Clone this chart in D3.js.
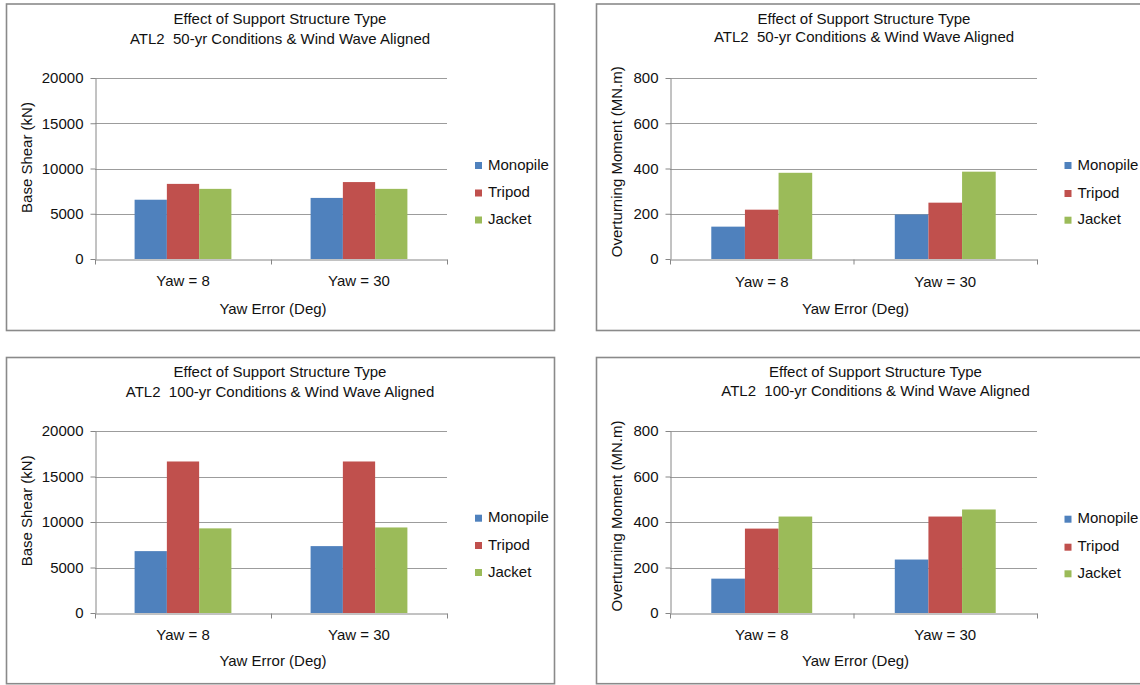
<!DOCTYPE html>
<html>
<head>
<meta charset="utf-8">
<script src="https://cdn.jsdelivr.net/npm/d3@7"></script>
<style>
  html, body { margin: 0; padding: 0; background: #fff; }
  svg { display: block; }
  text { font-family: "Liberation Sans", Arial, sans-serif; font-size: 15px; fill: #111; }
</style>
</head>
<body>
<svg id="chart" width="1140" height="685"></svg>
<script>
// ---- data ----
const categories = ["Yaw = 8", "Yaw = 30"];
const seriesNames = ["Monopile", "Tripod", "Jacket"];
const seriesColors = ["#4F81BD", "#C0504D", "#9BBB59"];

const titleLine1 = "Effect of Support Structure Type";
const titleLine2_50 = "ATL2  50-yr Conditions & Wind Wave Aligned";
const titleLine2_100 = "ATL2  100-yr Conditions & Wind Wave Aligned";
const xAxisTitle = "Yaw Error (Deg)";
const shearTitle = "Base Shear (kN)";
const momentTitle = "Overturning Moment (MN.m)";

const shearTicks = [0, 5000, 10000, 15000, 20000];
const momentTicks = [0, 200, 400, 600, 800];

// values per series (Monopile, Tripod, Jacket) across categories
const shear50Monopile = [6550, 6750];
const shear50Tripod = [8300, 8500];
const shear50Jacket = [7750, 7750];

const moment50Monopile = [143, 197];
const moment50Tripod = [218, 249];
const moment50Jacket = [381, 386];

const shear100Monopile = [6800, 7350];
const shear100Tripod = [16650, 16650];
const shear100Jacket = [9300, 9400];

const moment100Monopile = [151, 235];
const moment100Tripod = [371, 424];
const moment100Jacket = [424, 455];

// ---- layout ----
const panels = [
  { frame: [6.5, 4, 548, 326.5], plot: { l: 95, r: 447, t: 78, b: 259 },
    titleX: 280, titleY: [24, 44], title2: titleLine2_50,
    yTitle: shearTitle, yTitleX: 27, yTitleC: 157.5, ticks: shearTicks,
    legendX: 475, legendY: [164, 191.5, 218.5], xLabY: 286, xTitleY: 313.5,
    series: [shear50Monopile, shear50Tripod, shear50Jacket] },
  { frame: [596.5, 4, 600, 326.5], plot: { l: 670, r: 1037, t: 78, b: 259 },
    titleX: 864, titleY: [23.5, 42], title2: titleLine2_50,
    yTitle: momentTitle, yTitleX: 617, yTitleC: 161.7, ticks: momentTicks,
    legendX: 1064.5, legendY: [164, 192, 218.7], xLabY: 286.5, xTitleY: 313.5,
    series: [moment50Monopile, moment50Tripod, moment50Jacket] },
  { frame: [6.5, 357.5, 548, 326.2], plot: { l: 95, r: 447, t: 431, b: 613 },
    titleX: 280, titleY: [377, 397], title2: titleLine2_100,
    yTitle: shearTitle, yTitleX: 26.5, yTitleC: 510.8, ticks: shearTicks,
    legendX: 475, legendY: [516.7, 544, 571], xLabY: 640, xTitleY: 666,
    series: [shear100Monopile, shear100Tripod, shear100Jacket] },
  { frame: [596.5, 357.5, 600, 326.2], plot: { l: 670, r: 1037, t: 431, b: 613 },
    titleX: 875.5, titleY: [376.5, 396], title2: titleLine2_100,
    yTitle: momentTitle, yTitleX: 617, yTitleC: 516, ticks: momentTicks,
    legendX: 1064.5, legendY: [517.7, 545.7, 572.3], xLabY: 640, xTitleY: 666,
    series: [moment100Monopile, moment100Tripod, moment100Jacket] }
];

const svg = d3.select("#chart");
const axisColor = "#868686";
const gridColor = "#9c9c9c";

panels.forEach(p => {
  const g = svg.append("g");
  const [fx, fy, fw, fh] = p.frame;
  g.append("rect").attr("x", fx).attr("y", fy).attr("width", fw).attr("height", fh)
    .attr("fill", "#fff").attr("stroke", "#8a8a8a").attr("stroke-width", 1.6);

  const { l, r, t, b } = p.plot;
  const y = d3.scaleLinear().domain([p.ticks[0], p.ticks[p.ticks.length - 1]]).range([b, t]);
  const x0 = d3.scaleBand().domain(categories).range([l, r]).paddingInner(0.45).paddingOuter(0.225);
  const x1 = d3.scaleBand().domain(seriesNames).range([0, x0.bandwidth()]);
  const xb = d3.scaleLinear().domain([0, categories.length]).range([l, r]);

  // gridlines
  g.append("g").selectAll("line").data(p.ticks.slice(1)).join("line")
    .attr("x1", l).attr("x2", r)
    .attr("y1", d => Math.round(y(d)) + 0.5).attr("y2", d => Math.round(y(d)) + 0.5)
    .attr("stroke", gridColor).attr("stroke-width", 1);

  // bars
  const rows = categories.map((c, i) => seriesNames.map((s, j) => ({ c, s, j, v: p.series[j][i] })));
  g.append("g").selectAll("g").data(rows).join("g")
    .attr("transform", (d, i) => `translate(${x0(categories[i])},0)`)
    .selectAll("rect").data(d => d).join("rect")
    .attr("x", d => x1(d.s)).attr("width", x1.bandwidth())
    .attr("y", d => y(d.v)).attr("height", d => y(0) - y(d.v))
    .attr("fill", d => seriesColors[d.j]);

  // y axis
  const ya = g.append("g").attr("transform", `translate(${l + 0.5},0)`)
    .call(d3.axisLeft(y).tickValues(p.ticks).tickFormat(d3.format("d"))
      .tickSize(5).tickPadding(7).tickSizeOuter(0));
  ya.select(".domain").attr("stroke", axisColor);
  ya.selectAll(".tick line").attr("stroke", axisColor);
  ya.selectAll("text").style("font-size", "15px").attr("fill", "#111")
    .style("font-family", '"Liberation Sans", Arial, sans-serif');

  // x axis baseline + boundary ticks
  const xa = g.append("g").attr("transform", `translate(0,${Math.round(b) + 0.5})`)
    .call(d3.axisBottom(xb).tickValues(d3.range(categories.length + 1)).tickSize(5).tickSizeOuter(0).tickFormat(""));
  xa.select(".domain").attr("stroke", axisColor);
  xa.selectAll(".tick line").attr("stroke", axisColor);

  // category labels
  g.append("g").selectAll("text").data(categories).join("text")
    .attr("x", d => x0(d) + x0.bandwidth() / 2).attr("y", p.xLabY)
    .attr("text-anchor", "middle").text(d => d);

  // axis titles
  g.append("text").attr("x", (l + r) / 2 + 2).attr("y", p.xTitleY)
    .attr("text-anchor", "middle").text(xAxisTitle);
  g.append("text").attr("transform", `translate(${p.yTitleX + 5},${p.yTitleC}) rotate(-90)`)
    .attr("text-anchor", "middle").text(p.yTitle);

  // chart title
  g.append("text").attr("x", p.titleX).attr("y", p.titleY[0]).attr("text-anchor", "middle").text(titleLine1);
  g.append("text").attr("x", p.titleX).attr("y", p.titleY[1]).attr("text-anchor", "middle")
    .style("white-space", "pre").attr("xml:space", "preserve").text(p.title2);

  // legend
  const lg = g.append("g").selectAll("g").data(seriesNames).join("g")
    .attr("transform", (d, i) => `translate(${p.legendX},${p.legendY[i]})`);
  lg.append("rect").attr("x", 0).attr("y", -2).attr("width", 7).attr("height", 7)
    .attr("fill", (d, i) => seriesColors[i]);
  lg.append("text").attr("x", 13).attr("y", 5.5).text(d => d);
});
</script>
</body>
</html>
